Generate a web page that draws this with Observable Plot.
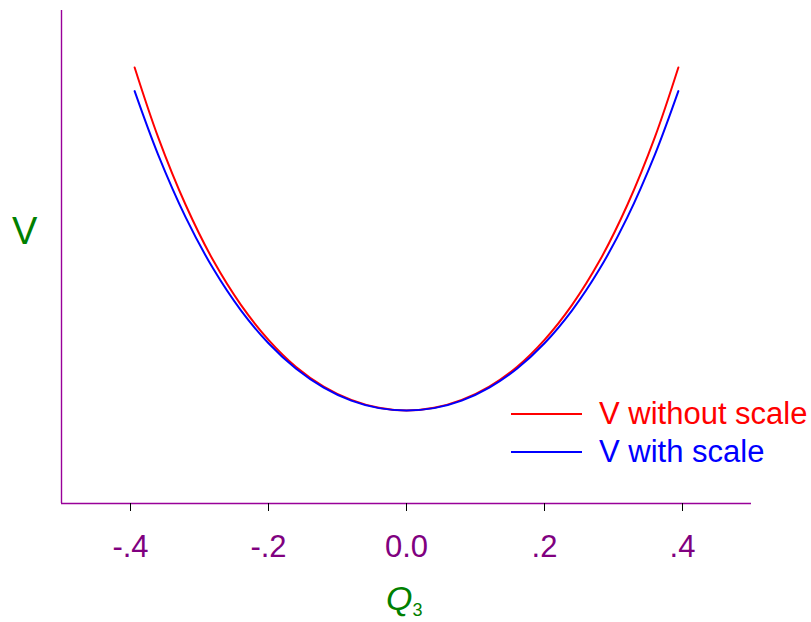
<!DOCTYPE html>
<html>
<head>
<meta charset="utf-8">
<script src="https://cdn.jsdelivr.net/npm/d3@7"></script>
<script src="https://cdn.jsdelivr.net/npm/@observablehq/plot@0.6"></script>
<style>
  body { margin: 0; background: #fff; }
  #chart { position: relative; width: 811px; height: 622px; font-family: "Liberation Sans", Arial, sans-serif; }
  .lbl { position: absolute; white-space: nowrap; line-height: 1; }
  .key { position: absolute; height: 0; border-top: 2px solid; }
</style>
</head>
<body>
<div id="chart"></div>
<script>
// Normal coordinate Q3 and the potential along it
const qValues = [-0.394, -0.36, -0.32, -0.28, -0.24, -0.20, -0.16, -0.12, -0.08, -0.04, 0,
                  0.04, 0.08, 0.12, 0.16, 0.20, 0.24, 0.28, 0.32, 0.36, 0.394];
const vWithoutScale = [1.000, 0.797, 0.599, 0.437, 0.308, 0.206, 0.127, 0.070, 0.031, 0.008, 0,
                       0.008, 0.031, 0.070, 0.127, 0.206, 0.308, 0.437, 0.599, 0.797, 1.000];
const vWithScale = [0.931, 0.746, 0.563, 0.413, 0.292, 0.196, 0.122, 0.067, 0.029, 0.007, 0,
                    0.007, 0.029, 0.067, 0.122, 0.196, 0.292, 0.413, 0.563, 0.746, 0.931];
const seriesNames = ["V without scale", "V with scale"];
const seriesColors = ["#ff0000", "#0000ff"];
const xTicks = [-0.4, -0.2, 0, 0.2, 0.4];
const xTickLabels = ["-.4", "-.2", "0.0", ".2", ".4"];
const xDomain = [-0.5, 0.5];
const yDomain = [-0.271, 1.166];

const rows = [];
qValues.forEach((q, i) => {
  rows.push({q, v: vWithoutScale[i], s: seriesNames[0]});
  rows.push({q, v: vWithScale[i], s: seriesNames[1]});
});

const axisColor = "#990099";
const plot = Plot.plot({
  width: 811,
  height: 622,
  marginLeft: 61,
  marginRight: 60,
  marginTop: 10,
  marginBottom: 119,
  style: {fontFamily: "'Liberation Sans', Arial, sans-serif", background: "transparent"},
  x: {domain: xDomain},
  y: {domain: yDomain, axis: null},
  color: {domain: seriesNames, range: seriesColors},
  marks: [
    Plot.ruleX([xDomain[0]], {stroke: axisColor, strokeWidth: 1.4}),
    Plot.ruleY([yDomain[0]], {stroke: axisColor, strokeWidth: 1.4}),
    Plot.axisX({
      ticks: xTicks,
      tickFormat: d => xTickLabels[xTicks.indexOf(d)],
      tickSize: 8,
      tickPadding: 23,
      stroke: "#000",
      fill: "#800080",
      fontSize: 31,
      label: null
    }),
    Plot.line(rows, {x: "q", y: "v", z: "s", stroke: "s", strokeWidth: 2, curve: "catmull-rom"})
  ]
});
d3.select(plot).selectAll('[aria-label="x-axis tick label"] text').attr("fill", "#800080");
d3.select(plot).selectAll('[aria-label="x-axis tick"]').attr("stroke", "#000");

const chart = document.getElementById("chart");
chart.appendChild(plot);

function addLabel(html, css) {
  const el = document.createElement("div");
  el.className = "lbl";
  el.innerHTML = html;
  Object.assign(el.style, css);
  chart.appendChild(el);
  return el;
}

// y-axis title
addLabel("V", {left: "12px", top: "212px", fontSize: "38px", color: "#008000"});
// x-axis title
addLabel('<i>Q</i><sub style="font-size:18px;line-height:1;vertical-align:-6px">3</sub>',
         {left: "386px", top: "581px", fontSize: "34px", color: "#008000"});

// legend
seriesNames.forEach((name, i) => {
  const top = 414 + i * 37.5;
  const key = document.createElement("div");
  key.className = "key";
  Object.assign(key.style, {left: "511px", width: "71px", top: (top - 1) + "px", borderColor: seriesColors[i]});
  chart.appendChild(key);
  addLabel(name, {left: "599px", top: (top - 16) + "px", fontSize: "31px", color: seriesColors[i]});
});
</script>
</body>
</html>
